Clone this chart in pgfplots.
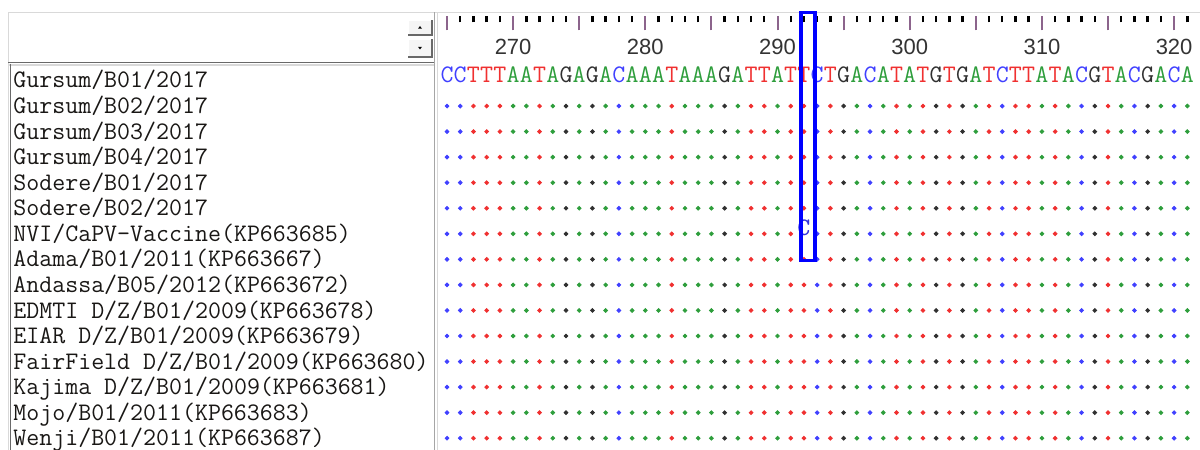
\documentclass[border=0pt]{standalone}
\usepackage{pgfplots}
\pgfplotsset{compat=1.18}
\usepackage{pgfplotstable}
\usepackage{fontspec}
\setmainfont{Liberation Sans}
\definecolor{baseA}{RGB}{46,158,60}
\definecolor{baseC}{RGB}{64,64,255}
\definecolor{baseG}{RGB}{48,48,48}
\definecolor{baseT}{RGB}{240,48,48}
\definecolor{rulermauve}{RGB}{140,100,140}
\definecolor{nametext}{RGB}{25,23,21}
\definecolor{panelgray}{RGB}{217,217,217}
\definecolor{darkedge}{RGB}{105,105,105}
\newcommand{\seqfont}{\ttfamily\fontsize{12.6}{14}\selectfont}

% alignment positions of each base in the reference (Gursum/B01/2017), row 0
\pgfplotstableread{
pos row
270 0
271 0
273 0
275 0
277 0
279 0
280 0
281 0
283 0
284 0
285 0
287 0
290 0
296 0
298 0
300 0
305 0
310 0
312 0
316 0
319 0
321 0
}\siteA
\pgfplotstableread{
pos row
265 0
266 0
278 0
293 0
297 0
307 0
313 0
317 0
320 0
}\siteC
\pgfplotstableread{
pos row
274 0
276 0
286 0
295 0
302 0
304 0
314 0
318 0
}\siteG
\pgfplotstableread{
pos row
267 0
268 0
269 0
272 0
282 0
288 0
289 0
291 0
292 0
294 0
299 0
301 0
303 0
306 0
308 0
309 0
311 0
315 0
}\siteT

\newcommand{\letterrow}[3]{%
  \addplot[only marks, mark=text, text mark=#1, text mark as node=true,
    text mark style={font=\seqfont, inner ysep=0pt, inner xsep=-0.3pt, yshift=2.75pt, text=#2}]
    table[x=pos, y=row]{#3};}
\newcommand{\dotrow}[3]{%
  \addplot[only marks, mark=*, mark size=0.95pt, color=#2, draw=#2, fill=#2,
    y filter/.expression={y+#1}]
    table[x=pos, y=row]{#3};}

\begin{document}
\begin{tikzpicture}
% ---- window frame (pixel coordinates, origin top-left) ----
\begin{scope}[x=0.5pt,y=-0.5pt,shift={(0pt,225pt)}]
  \fill[white] (0,0) rectangle (1200,450);
  \draw[panelgray, line width=0.8pt] (8,12.5) -- (1200,12.5);
  \draw[panelgray, line width=0.6pt] (8.5,12.5) -- (8.5,450);
  % header bottom
  \draw[darkedge, line width=0.6pt] (8,62.5) -- (434,62.5);
  \draw[panelgray, line width=0.6pt] (8,65) -- (434,65);
  % names box left border
  \draw[darkedge, line width=0.9pt] (10.5,64) -- (10.5,450);
  % separator
  \draw[black!35, line width=0.6pt] (434.5,12.5) -- (434.5,450);
  \draw[panelgray, line width=0.8pt] (437.5,12.5) -- (437.5,450);
  % scroll buttons
  \foreach \yt/\yb/\ar in {20/35/1, 39/57/-1}{
    \fill[black!4] (408,\yt) rectangle (432,\yb);
    \draw[white, line width=0.6pt] (408,\yb) -- (408,\yt) -- (432,\yt);
    \draw[darkedge, line width=0.9pt] (408,\yb) -- (432,\yb) -- (432,\yt);
    \fill[black] ({420-2},{(\yt+\yb)/2+\ar*1.2}) -- ({420+2},{(\yt+\yb)/2+\ar*1.2}) -- (420,{(\yt+\yb)/2-\ar*1.5}) -- cycle;
  }
  % sequence names
  \foreach \n [count=\i from 0] in {Gursum/B01/2017,Gursum/B02/2017,Gursum/B03/2017,Gursum/B04/2017,Sodere/B01/2017,Sodere/B02/2017,NVI/CaPV-Vaccine(KP663685),Adama/B01/2011(KP663667),Andassa/B05/2012(KP663672),EDMTI D/Z/B01/2009(KP663678),EIAR D/Z/B01/2009(KP663679),FairField D/Z/B01/2009(KP663680),Kajima D/Z/B01/2009(KP663681),Mojo/B01/2011(KP663683),Wenji/B01/2011(KP663687)}{
    \node[anchor=base west, inner sep=0pt, font=\seqfont, text=nametext] at (13,{88+25.57*\i}) {\n};
  }
\end{scope}

% ---- alignment body ----
\begin{axis}[at={(0pt,0pt)}, anchor=south west, scale only axis,
  width=600pt, height=225pt,
  xmin=231.187, xmax=321.959, ymin=-3.1507, ymax=14.462, y dir=reverse,
  hide axis, clip=false, unbounded coords=discard]
  % reference sequence (letters)
  \letterrow{A}{baseA}{\siteA}
  \letterrow{C}{baseC}{\siteC}
  \letterrow{G}{baseG}{\siteG}
  \letterrow{T}{baseT}{\siteT}
  % identical sites shown as dots
  \pgfplotsinvokeforeach{1,2,3,4,5,7,8,9,10,11,12,13,14}{
    \dotrow{#1}{baseA}{\siteA}
    \dotrow{#1}{baseC}{\siteC}
    \dotrow{#1}{baseG}{\siteG}
    \dotrow{#1}{baseT}{\siteT}
  }
  % vaccine row: dots except at site 292
  \dotrow{6}{baseA}{\siteA}
  \dotrow{6}{baseC}{\siteC}
  \dotrow{6}{baseG}{\siteG}
  \addplot[only marks, mark=*, mark size=0.95pt, baseT,
    x filter/.expression={x==292 ? nan : x}, y filter/.expression={y+6}]
    table[x=pos, y=row]{\siteT};
  % the one substitution: vaccine strain has C at 292
  \addplot[only marks, mark=text, text mark=C, text mark as node=true,
    text mark style={font=\seqfont, inner sep=0pt, yshift=2.75pt, text=baseC!85!black}]
    coordinates {(292,6)};
\end{axis}

% ---- ruler ----
\begin{axis}[at={(0pt,216.75pt)}, anchor=south west, scale only axis,
  width=600pt, height=4pt,
  xmin=231.187, xmax=321.959, ymin=0, ymax=1,
  axis x line*=bottom, axis y line=none, x axis line style={draw=none},
  xtick={265,270,...,320},
  xticklabels={,270,,280,,290,,300,,310,,320},
  minor xtick={266,267,268,269,271,272,273,274,276,277,278,279,281,282,283,284,286,287,288,289,291,292,293,294,296,297,298,299,301,302,303,304,306,307,308,309,311,312,313,314,316,317,318,319,321},
  tick align=outside, major tick length=7pt, minor tick length=3pt,
  major tick style={rulermauve, line width=1pt},
  minor tick style={black, line width=1.2pt},
  xticklabel style={font=\fontsize{11}{13}\selectfont, text=black!80, yshift=-1pt},
  /pgf/number format/assume math mode=true]
  \addplot[draw=none] coordinates {(270,0.5)};
\end{axis}

% ---- highlight box ----
\begin{scope}[x=0.5pt,y=-0.5pt,shift={(0pt,225pt)}]
  \draw[blue, line width=1.75pt] (801,12.5) rectangle (815,260.5);
\end{scope}

\pgfresetboundingbox
\path[use as bounding box] (0,0) rectangle (600pt,225pt);
\end{tikzpicture}
\end{document}
